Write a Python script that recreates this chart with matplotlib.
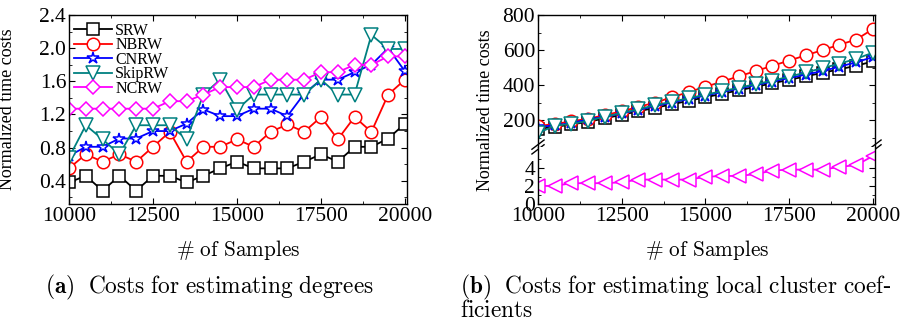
import numpy as np
import matplotlib
matplotlib.use("Agg")
import matplotlib.pyplot as plt
from matplotlib.ticker import MultipleLocator, FixedLocator

# ---- data -------------------------------------------------------------
samples = list(range(10000, 20001, 500))

# (a) costs for estimating degrees
deg_srw = [0.38, 0.46, 0.28, 0.46, 0.28, 0.46, 0.46, 0.38, 0.46, 0.55, 0.63,
           0.55, 0.55, 0.55, 0.63, 0.72, 0.63, 0.81, 0.81, 0.91, 1.09]
deg_nbrw = [0.55, 0.72, 0.63, 0.72, 0.63, 0.81, 0.99, 0.63, 0.81, 0.81, 0.90,
            0.81, 0.99, 1.08, 0.99, 1.17, 0.90, 1.17, 0.99, 1.44, 1.62]
deg_cnrw = [0.70, 0.81, 0.81, 0.91, 0.91, 1.00, 1.00, 1.09, 1.26, 1.18, 1.18,
            1.27, 1.27, 1.18, 1.45, 1.62, 1.62, 1.71, 1.80, 2.00, 1.72]
deg_skiprw = [0.68, 1.07, 0.90, 0.72, 1.07, 1.07, 1.07, 0.90, 1.44, 1.62, 1.26,
              1.44, 1.44, 1.44, 1.44, 1.62, 1.44, 1.44, 2.16, 1.99, 1.99]
deg_ncrw = [1.27, 1.27, 1.27, 1.27, 1.27, 1.27, 1.36, 1.36, 1.44, 1.53, 1.53,
            1.53, 1.62, 1.62, 1.62, 1.71, 1.71, 1.80, 1.80, 1.90, 1.90]

# (b) costs for estimating local cluster coefficients
cc_srw = [150, 160, 175, 190, 210, 230, 250, 270, 290, 310, 330,
          350, 370, 390, 410, 430, 450, 470, 490, 510, 535]
cc_nbrw = [165, 178, 192, 208, 228, 250, 275, 300, 330, 360, 390,
           420, 450, 480, 510, 540, 570, 600, 630, 660, 720]
cc_cnrw = [160, 170, 182, 205, 218, 238, 258, 280, 300, 320, 340,
           360, 380, 400, 420, 440, 460, 480, 505, 530, 560]
cc_skiprw = [125, 168, 178, 195, 220, 240, 262, 285, 305, 325, 345,
             365, 385, 405, 425, 448, 472, 497, 522, 550, 585]
cc_ncrw = [2.0, 2.0, 2.3, 2.3, 2.3, 2.4, 2.7, 2.7, 2.7, 2.7, 3.0,
           3.1, 3.1, 3.3, 3.7, 3.8, 3.8, 3.8, 4.1, 4.3, 5.3]

names = ["SRW", "NBRW", "CNRW", "SkipRW", "NCRW"]
colors = ["black", "#FF0000", "#0000FF", "#008080", "#FF00FF"]

# ---- style ------------------------------------------------------------
plt.rcParams["font.family"] = "Liberation Serif"
plt.rcParams["mathtext.fontset"] = "cm"
plt.rcParams["xtick.direction"] = "in"
plt.rcParams["ytick.direction"] = "in"
plt.rcParams["axes.linewidth"] = 1.0

W, H = 916, 326
fig = plt.figure(figsize=(W / 100, H / 100), dpi=100)


def box(l, t, r, b):
    return [l / W, 1 - b / H, (r - l) / W, (b - t) / H]


line_kw = dict(lw=1.3, mfc="white", mew=1.1)
TICK_FS = 15.5


def style_ticks(ax, top=True, bottom=True):
    ax.tick_params(which="both", top=top, bottom=bottom, left=True, right=True,
                   labelsize=TICK_FS)
    ax.tick_params(axis="x", pad=2)
    ax.tick_params(axis="y", pad=2)
    ax.tick_params(which="major", length=4)
    ax.tick_params(which="minor", length=2.5)


# ---- (a) --------------------------------------------------------------
ax = fig.add_axes(box(69, 15, 407, 204))
deg_series = [deg_srw, deg_nbrw, deg_cnrw, deg_skiprw, deg_ncrw]
markers_a = ["s", "o", "*", "v", "D"]
msizes_a = [8, 9, 9, 9.5, 7.5]
for vals, name, c, m, ms in zip(deg_series, names, colors, markers_a, msizes_a):
    ax.plot(samples, vals, color=c, marker=m, ms=ms, mec=c, label=name, **line_kw)
ax.set_xlim(10000, 20060)
ax.set_ylim(0.12, 2.4)
ax.xaxis.set_major_locator(MultipleLocator(2500))
ax.xaxis.set_minor_locator(MultipleLocator(1250))
ax.yaxis.set_major_locator(MultipleLocator(0.4))
ax.yaxis.set_minor_locator(MultipleLocator(0.2))
ax.yaxis.set_major_formatter(plt.FuncFormatter(lambda v, p: f"{v:.1f}"))
style_ticks(ax)
ax.set_ylabel("Normalized time costs", fontsize=13)
ax.yaxis.set_label_coords(-0.157, 0.5)
ax.legend(loc="upper left", frameon=False, fontsize=11.5, handlelength=2.4,
          handletextpad=0.2, labelspacing=-0.1, borderaxespad=0.0,
          borderpad=0.3, bbox_to_anchor=(0.0, 0.983))

# ---- (b) with broken y-axis -------------------------------------------
ax_up = fig.add_axes(box(538, 15, 875, 147))
ax_lo = fig.add_axes(box(538, 147, 875, 204), sharex=ax_up)

cc_series = [cc_srw, cc_nbrw, cc_cnrw, cc_skiprw]
markers_b = ["s", "o", "*", "v"]
msizes_b = [8, 9, 9, 9.5]
for vals, c, m, ms in zip(cc_series, colors[:4], markers_b, msizes_b):
    ax_up.plot(samples, vals, color=c, marker=m, ms=ms, mec=c, **line_kw)
ax_lo.plot(samples, cc_ncrw, color=colors[4], marker="<", ms=9.5,
           mec=colors[4], **line_kw)

ax_up.set_xlim(10000, 20060)
ax_up.set_ylim(46, 800)
ax_lo.set_ylim(0, 6.3)
ax_up.yaxis.set_major_locator(MultipleLocator(200))
ax_up.yaxis.set_minor_locator(MultipleLocator(100))
ax_lo.yaxis.set_major_locator(FixedLocator([0, 2, 4]))
ax_lo.yaxis.set_minor_locator(FixedLocator([1, 3, 5]))
ax_lo.xaxis.set_major_locator(MultipleLocator(2500))
ax_lo.xaxis.set_minor_locator(MultipleLocator(1250))
ax_up.spines["bottom"].set_visible(False)
ax_lo.spines["top"].set_visible(False)
style_ticks(ax_up, top=True, bottom=False)
style_ticks(ax_lo, top=False, bottom=True)
ax_up.tick_params(labelbottom=False)

# break marks on both spines
for xb in (0, 1):
    for dy in (-0.018, 0.018):
        ax_up.plot([xb - 0.018, xb + 0.018], [dy - 0.035, dy + 0.035],
                   transform=ax_up.transAxes, color="black", lw=1.0,
                   clip_on=False)

fig.text(485 / W, 1 - 110 / H, "Normalized time costs", rotation=90,
         ha="center", va="center", fontsize=13)

# ---- shared labels and captions ---------------------------------------
fig.text(238 / W, 1 - 250 / H, r"$\#\ \mathrm{of\ Samples}$", ha="center",
         va="center", fontsize=15.3)
fig.text(707 / W, 1 - 250 / H, r"$\#\ \mathrm{of\ Samples}$", ha="center",
         va="center", fontsize=15.3)
fig.text(45 / W, 1 - 287 / H,
         r"$\mathbf{(a)}\ \ \mathrm{Costs\ for\ estimating\ degrees}$",
         ha="left", va="center", fontsize=16.8)
fig.text(460 / W, 1 - 287 / H,
         r"$\mathbf{(b)}\ \ \mathrm{Costs\ for\ estimating\ local\ cluster\ coef}$-",
         ha="left", va="center", fontsize=16.8)
fig.text(460 / W, 1 - 311 / H, r"$\mathrm{ficients}$",
         ha="left", va="center", fontsize=16.8)

fig.savefig("out.png", dpi=100)
